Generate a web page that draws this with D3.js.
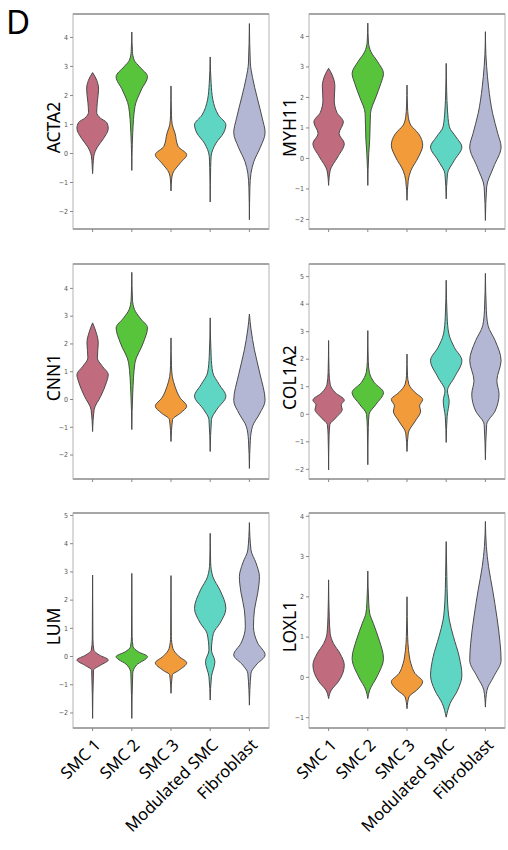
<!DOCTYPE html>
<html>
<head>
<meta charset="utf-8">
<script src="https://cdn.jsdelivr.net/npm/d3@7"></script>
<style>
  body { margin: 0; background: #fff; }
  svg { display: block; }
</style>
</head>
<body>
<div id="chart"></div>
<script>
// cell types on the x axis (same for every panel)
const cellTypes = ["SMC 1", "SMC 2", "SMC 3", "Modulated SMC", "Fibroblast"];
const colors = ["#c06b7e", "#57c43b", "#f29b3b", "#5fd6c3", "#b4b7d3"];

const genes = ["ACTA2", "MYH11", "CNN1", "COL1A2", "LUM", "LOXL1"];
const yRanges = [[-2.62, 4.79], [-2.33, 4.72], [-2.88, 4.86], [-2.37, 5.44], [-2.55, 5.07], [-1.27, 4.07]];
const yTicks = [
    [-2, -1, 0, 1, 2, 3, 4],
    [-2, -1, 0, 1, 2, 3, 4],
    [-2, -1, 0, 1, 2, 3, 4],
    [-2, -1, 0, 1, 2, 3, 4, 5],
    [-2, -1, 0, 1, 2, 3, 4, 5],
    [-1, 0, 1, 2, 3, 4]
];

// violin outlines: [expression, relative half width]
const acta2 = [
    [[-0.71, 0], [-0.4, 0.03], [-0.1, 0.08], [0.2, 0.3], [0.5, 0.7], [0.85, 1.0], [1.05, 0.9], [1.2, 0.5], [1.4, 0.26], [1.75, 0.3], [2.2, 0.38], [2.5, 0.27], [2.77, 0]],
    [[-0.6, 0], [0.3, 0.03], [0.7, 0.06], [1.6, 0.2], [2.17, 0.6], [2.63, 1.0], [2.97, 0.5], [3.2, 0.15], [3.5, 0.04], [4.17, 0]],
    [[-1.31, 0], [-0.9, 0.04], [-0.69, 0.12], [-0.34, 0.6], [-0.06, 1.0], [0.23, 0.45], [0.69, 0.25], [0.97, 0.08], [1.3, 0.03], [2.31, 0]],
    [[-1.69, 0], [-0.5, 0.03], [-0.11, 0.06], [0.34, 0.37], [0.69, 0.85], [0.97, 1.0], [1.31, 0.52], [1.83, 0.17], [2.4, 0.06], [3.31, 0]],
    [[-2.3, 0], [-1.2, 0.03], [-0.7, 0.1], [-0.3, 0.28], [0.2, 0.7], [0.7, 1.0], [1.2, 0.82], [1.9, 0.5], [2.6, 0.2], [3.1, 0.06], [4.46, 0]]
];
const myh11 = [
    [[-0.9, 0], [-0.41, 0.1], [0.03, 0.58], [0.47, 1.0], [0.8, 0.67], [1.18, 0.94], [1.5, 0.52], [1.9, 0.36], [2.35, 0.4], [2.75, 0.2], [2.94, 0]],
    [[-0.9, 0], [0.14, 0.06], [0.58, 0.12], [1.46, 0.17], [2.0, 0.52], [2.44, 0.83], [2.77, 1.0], [3.16, 0.62], [3.48, 0.2], [3.8, 0.04], [4.42, 0]],
    [[-1.39, 0], [-0.73, 0.08], [-0.41, 0.25], [0.03, 0.73], [0.42, 1.0], [0.8, 0.73], [1.07, 0.25], [1.35, 0.08], [1.7, 0.03], [2.39, 0]],
    [[-1.34, 0], [-0.52, 0.08], [-0.08, 0.52], [0.36, 1.0], [0.69, 0.62], [1.02, 0.2], [1.57, 0.08], [2.2, 0.03], [3.1, 0]],
    [[-2.05, 0], [-0.95, 0.08], [-0.3, 0.52], [0.36, 1.0], [0.8, 0.79], [1.46, 0.46], [2.33, 0.2], [2.99, 0.08], [3.4, 0.03], [4.14, 0]]
];
const cnn1 = [
    [[-1.17, 0], [-0.38, 0.1], [0.1, 0.52], [0.58, 0.87], [0.88, 1.0], [1.18, 0.62], [1.48, 0.3], [2.02, 0.36], [2.44, 0.2], [2.74, 0]],
    [[-1.1, 0], [0.22, 0.06], [1.3, 0.2], [2.02, 0.73], [2.56, 1.0], [2.92, 0.52], [3.22, 0.17], [3.6, 0.04], [4.56, 0]],
    [[-1.53, 0], [-0.74, 0.1], [-0.5, 0.62], [-0.26, 1.0], [0.04, 0.58], [0.46, 0.25], [0.82, 0.08], [1.2, 0.03], [2.2, 0]],
    [[-1.89, 0], [-0.74, 0.08], [-0.38, 0.42], [0.1, 1.0], [0.52, 0.58], [0.94, 0.17], [1.54, 0.06], [2.92, 0]],
    [[-2.5, 0], [-1.48, 0.06], [-0.98, 0.2], [-0.54, 0.64], [-0.05, 1.0], [0.89, 0.68], [1.77, 0.32], [2.52, 0.1], [3.06, 0]]
];
const col1a2 = [
    [[-2.04, 0], [-0.8, 0.03], [-0.39, 0.08], [-0.15, 0.46], [0.16, 0.87], [0.32, 0.8], [0.49, 1.0], [0.77, 0.42], [1.07, 0.1], [1.5, 0.03], [2.66, 0]],
    [[-1.85, 0], [-0.5, 0.03], [-0.02, 0.08], [0.34, 0.52], [0.77, 1.0], [1.13, 0.42], [1.5, 0.1], [1.9, 0.03], [3.02, 0]],
    [[-1.37, 0], [-0.7, 0.08], [-0.27, 0.52], [0.1, 0.87], [0.28, 0.8], [0.52, 1.0], [0.77, 0.52], [1.07, 0.12], [1.4, 0.03], [2.17, 0]],
    [[-1.04, 0], [-0.09, 0.06], [0.46, 0.19], [0.83, 0.08], [1.32, 0.52], [1.93, 1.0], [2.41, 0.52], [2.9, 0.17], [3.51, 0.06], [4.85, 0]],
    [[-1.67, 0], [-0.39, 0.08], [0.1, 0.62], [0.71, 0.87], [1.2, 0.73], [1.93, 1.0], [2.66, 0.62], [3.2, 0.17], [3.76, 0.06], [5.1, 0]]
];
const lum = [
    [[-2.21, 0], [-0.5, 0.06], [-0.32, 0.52], [-0.14, 1.0], [0.04, 0.42], [0.21, 0.08], [0.6, 0.02], [2.87, 0]],
    [[-2.21, 0], [-0.61, 0.06], [-0.32, 0.3], [-0.02, 1.0], [0.15, 0.42], [0.33, 0.08], [0.7, 0.02], [2.93, 0]],
    [[-1.32, 0], [-0.67, 0.08], [-0.5, 0.52], [-0.24, 1.0], [-0.02, 0.52], [0.27, 0.12], [0.7, 0.02], [2.85, 0]],
    [[-1.56, 0], [-0.73, 0.08], [-0.2, 0.3], [0.21, 0.08], [0.8, 0.2], [1.16, 0.62], [1.69, 1.0], [2.34, 0.62], [2.81, 0.17], [3.3, 0.03], [4.35, 0]],
    [[-1.74, 0], [-0.61, 0.1], [-0.32, 0.42], [0.04, 1.0], [0.46, 0.53], [1.04, 0.26], [1.63, 0.32], [2.23, 0.53], [2.81, 0.64], [3.3, 0.42], [3.76, 0.1], [4.73, 0]]
];
const loxl1 = [
    [[-0.54, 0], [-0.33, 0.17], [-0.12, 0.62], [0.29, 1.0], [0.58, 0.73], [0.83, 0.31], [1.08, 0.1], [1.49, 0.04], [2.41, 0]],
    [[-0.54, 0], [-0.33, 0.12], [0, 0.58], [0.46, 1.0], [0.91, 0.73], [1.33, 0.35], [1.58, 0.12], [1.83, 0.06], [2.63, 0]],
    [[-0.79, 0], [-0.5, 0.12], [-0.33, 0.62], [-0.12, 1.0], [0.08, 0.52], [0.33, 0.25], [0.66, 0.1], [1.0, 0.04], [1.99, 0]],
    [[-1.0, 0], [-0.66, 0.25], [-0.33, 0.73], [0.04, 1.0], [0.5, 0.83], [1.0, 0.46], [1.41, 0.2], [1.91, 0.08], [2.49, 0.04], [3.36, 0]],
    [[-0.75, 0], [-0.33, 0.1], [0, 0.52], [0.41, 1.0], [0.83, 0.94], [1.49, 0.73], [2.16, 0.46], [2.74, 0.2], [3.24, 0.06], [3.86, 0]]
];
const violins = [acta2, myh11, cnn1, col1a2, lum, loxl1];

const width = 508, height = 850;
const panelW = 196, panelH = 215;
const colX = [73, 309];
const rowY = [14, 264, 513];

const svg = d3.select("#chart").append("svg")
    .attr("width", width)
    .attr("height", height);

svg.append("text")
    .attr("x", 6)
    .attr("y", 34)
    .style("font-family", "'Noto Sans', sans-serif")
    .style("font-size", "33px")
    .text("D");

genes.forEach((gene, i) => {
    const px = colX[i % 2], py = rowY[Math.floor(i / 2)];
    const g = svg.append("g").attr("transform", `translate(${px},${py})`);

    const x = d3.scaleBand().domain(cellTypes).range([0, panelW]).padding(0);
    const y = d3.scaleLinear().domain(yRanges[i]).range([panelH, 0]);
    const half = x.bandwidth() * 0.4;

    // violins
    violins[i].forEach((pts, j) => {
        const cx = x(cellTypes[j]) + x.bandwidth() / 2;
        const area = d3.area()
            .curve(d3.curveMonotoneY)
            .y(d => y(d[0]))
            .x0(d => cx - d[1] * half)
            .x1(d => cx + d[1] * half);
        g.append("path")
            .datum(pts)
            .attr("d", area)
            .attr("fill", colors[j])
            .attr("stroke", "#4a4a4a")
            .attr("stroke-width", 1);
    });

    // frame
    g.append("rect")
        .attr("width", panelW)
        .attr("height", panelH)
        .attr("fill", "none")
        .attr("stroke", "#b4b4b4")
        .attr("stroke-width", 1);
    g.append("line").attr("x1", 0).attr("x2", panelW).attr("y1", 0).attr("y2", 0)
        .attr("stroke", "#a6a6a6").attr("stroke-width", 2);
    g.append("line").attr("x1", 0).attr("x2", panelW).attr("y1", panelH).attr("y2", panelH)
        .attr("stroke", "#a6a6a6").attr("stroke-width", 2);

    // y axis
    const yAxis = g.append("g")
        .call(d3.axisLeft(y).tickValues(yTicks[i]).tickSize(3).tickPadding(2).tickFormat(d3.format("d")));
    yAxis.select(".domain").remove();
    yAxis.selectAll("line").attr("stroke", "#888");
    yAxis.selectAll("text")
        .attr("fill", "#555")
        .style("font-family", "'DejaVu Sans Condensed', 'DejaVu Sans', sans-serif")
        .style("font-size", "7px");

    // x axis ticks
    const xAxis = g.append("g")
        .attr("transform", `translate(0,${panelH})`)
        .call(d3.axisBottom(x).tickSize(3).tickFormat(""));
    xAxis.select(".domain").remove();
    xAxis.selectAll("line").attr("stroke", "#888");

    // gene label
    g.append("text")
        .attr("transform", `translate(-13,${panelH / 2 + 6}) rotate(-90)`)
        .attr("text-anchor", "middle")
        .style("font-family", "'Noto Sans', sans-serif")
        .style("font-size", "17.5px")
        .text(gene);

    // category labels on the bottom row only
    if (i >= 4) {
        g.selectAll("text.cat")
            .data(cellTypes)
            .enter()
            .append("text")
            .attr("class", "cat")
            .attr("text-anchor", "end")
            .attr("transform", d => `translate(${x(d) + x.bandwidth() / 2 + 9},${panelH + 18}) rotate(-45)`)
            .style("font-family", "'Noto Sans', sans-serif")
            .style("font-size", "16.5px")
            .text(d => d);
    }
});
</script>
</body>
</html>
